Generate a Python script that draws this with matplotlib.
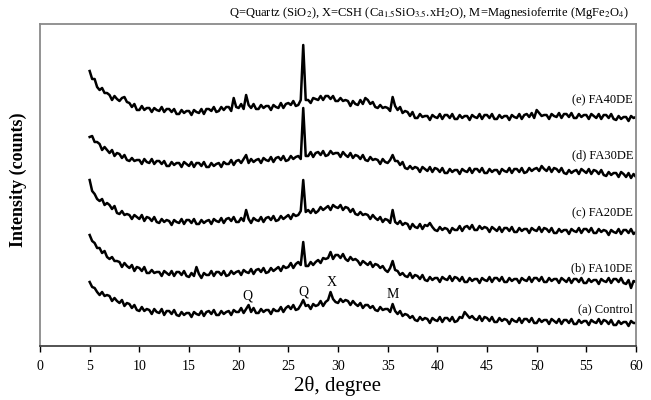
#!/usr/bin/env python3
"""
XRD patterns of control and FA/DE blended pastes, stacked with offsets.
"""

import numpy as np
import matplotlib
matplotlib.use("Agg")
import matplotlib.pyplot as plt

plt.rcParams["font.family"] = ["Liberation Serif", "DejaVu Serif"]
plt.rcParams["mathtext.fontset"] = "stix"

# 2-theta grid, 0.25 degree steps from 5 to 60
two_theta = np.arange(5, 60.001, 0.25)

# intensities (a.u., already offset for stacking)
fa40de = [
    275, 267, 267, 259, 256, 258, 253, 253, 251, 246, 250, 247, 245, 248, 249, 244,
    243, 239, 242, 236, 236, 240, 236, 238, 238, 234, 238, 236, 235, 239, 234, 237,
    237, 234, 237, 232, 232, 236, 233, 235, 235, 231, 236, 234, 233, 237, 232, 237,
    237, 235, 239, 234, 235, 239, 236, 239, 239, 235, 248, 239, 238, 242, 237, 251,
    241, 238, 242, 237, 237, 241, 238, 240, 240, 236, 241, 239, 238, 243, 238, 242,
    243, 241, 245, 240, 241, 246, 301, 246, 246, 243, 248, 247, 246, 250, 246, 250,
    250, 247, 250, 245, 245, 248, 245, 246, 245, 240, 245, 242, 241, 246, 242, 248,
    246, 242, 244, 239, 238, 241, 238, 239, 238, 235, 249, 240, 236, 239, 233, 235,
    234, 230, 234, 228, 228, 232, 229, 230, 230, 226, 231, 229, 228, 232, 227, 231,
    231, 228, 232, 227, 227, 231, 228, 230, 230, 226, 231, 229, 228, 232, 227, 231,
    231, 228, 232, 227, 227, 231, 228, 230, 230, 226, 231, 229, 228, 232, 227, 231,
    232, 229, 233, 228, 236, 233, 230, 231, 231, 227, 232, 230, 229, 233, 228, 232,
    232, 229, 233, 228, 228, 232, 229, 231, 231, 227, 232, 230, 228, 232, 227, 231,
    231, 228, 232, 227, 226, 230, 227, 229, 229, 225, 230, 228, 229,
]
fa30de = [
    209, 210, 204, 204, 202, 196, 199, 196, 193, 196, 190, 193, 192, 188, 191, 186,
    185, 188, 185, 186, 186, 182, 187, 184, 183, 187, 182, 185, 185, 182, 185, 180,
    180, 184, 181, 183, 183, 179, 184, 182, 180, 184, 179, 183, 183, 180, 184, 179,
    179, 183, 180, 182, 183, 179, 184, 182, 182, 186, 181, 185, 186, 183, 187, 191,
    183, 187, 184, 186, 187, 183, 188, 186, 185, 189, 184, 188, 189, 186, 190, 185,
    186, 190, 187, 189, 190, 187, 238, 190, 190, 194, 189, 193, 194, 191, 195, 190,
    191, 195, 192, 193, 193, 189, 194, 191, 189, 193, 188, 191, 190, 187, 191, 186,
    185, 189, 186, 187, 186, 182, 187, 184, 183, 186, 191, 185, 185, 181, 184, 178,
    177, 180, 177, 179, 178, 174, 179, 177, 175, 179, 174, 178, 177, 174, 178, 173,
    173, 177, 174, 176, 176, 172, 177, 175, 174, 178, 173, 177, 177, 174, 178, 173,
    173, 177, 174, 176, 176, 172, 177, 175, 174, 178, 173, 177, 177, 174, 178, 173,
    174, 178, 175, 177, 178, 175, 180, 177, 175, 179, 174, 178, 177, 174, 178, 173,
    172, 176, 173, 175, 176, 172, 177, 175, 173, 177, 172, 176, 175, 172, 176, 171,
    170, 174, 171, 173, 173, 169, 174, 172, 169, 173, 168, 172, 169,
]
fa20de = [
    166, 155, 152, 147, 145, 147, 141, 143, 141, 137, 140, 133, 132, 135, 131, 132,
    131, 127, 131, 129, 127, 131, 125, 129, 128, 125, 129, 124, 123, 127, 124, 126,
    125, 121, 126, 124, 123, 127, 122, 126, 126, 123, 127, 122, 122, 126, 123, 125,
    126, 122, 127, 125, 124, 128, 123, 127, 128, 125, 129, 124, 124, 128, 125, 136,
    127, 123, 128, 126, 125, 129, 124, 128, 129, 126, 130, 125, 126, 130, 127, 129,
    131, 127, 132, 130, 131, 135, 166, 134, 136, 133, 137, 133, 135, 139, 136, 138,
    140, 136, 141, 139, 138, 141, 136, 139, 138, 134, 137, 132, 131, 134, 131, 132,
    131, 127, 131, 128, 126, 129, 124, 127, 126, 123, 136, 124, 122, 125, 121, 123,
    122, 117, 122, 119, 118, 122, 117, 121, 120, 123, 119, 116, 115, 119, 116, 118,
    117, 113, 118, 116, 116, 120, 115, 119, 120, 117, 121, 116, 116, 120, 117, 119,
    118, 114, 119, 117, 115, 119, 114, 118, 118, 115, 119, 114, 114, 118, 115, 117,
    117, 113, 118, 116, 115, 119, 114, 118, 117, 114, 118, 113, 113, 117, 114, 116,
    116, 112, 117, 115, 114, 118, 113, 117, 117, 114, 118, 113, 113, 117, 114, 116,
    115, 111, 116, 114, 113, 117, 112, 116, 116, 113, 117, 112, 114,
]
fa10de = [
    111, 105, 103, 98, 98, 93, 95, 89, 87, 89, 85, 85, 84, 79, 83, 80,
    78, 81, 75, 79, 78, 75, 79, 73, 73, 76, 73, 74, 74, 70, 75, 73,
    71, 75, 70, 74, 74, 71, 75, 70, 69, 73, 70, 79, 72, 68, 73, 71,
    71, 75, 70, 74, 74, 71, 75, 70, 71, 75, 72, 74, 75, 71, 76, 74,
    73, 77, 72, 76, 77, 74, 78, 73, 74, 78, 75, 77, 79, 75, 80, 78,
    79, 83, 78, 82, 84, 81, 104, 80, 80, 84, 81, 84, 86, 83, 88, 87,
    88, 94, 87, 91, 91, 88, 92, 87, 85, 89, 86, 87, 85, 81, 85, 83,
    81, 84, 79, 82, 81, 78, 80, 76, 74, 78, 85, 76, 75, 71, 73, 70,
    69, 73, 68, 71, 70, 67, 71, 66, 65, 69, 66, 68, 68, 64, 69, 67,
    66, 70, 65, 69, 68, 65, 69, 64, 64, 68, 65, 67, 67, 63, 68, 66,
    65, 69, 64, 68, 68, 65, 69, 64, 64, 68, 65, 67, 67, 63, 68, 66,
    65, 69, 64, 68, 68, 65, 69, 64, 64, 68, 65, 67, 67, 63, 68, 66,
    64, 68, 63, 67, 67, 64, 68, 63, 63, 67, 64, 66, 66, 62, 67, 65,
    64, 68, 63, 67, 67, 64, 68, 63, 62, 66, 58, 65, 64,
]
control = [
    64, 59, 58, 54, 51, 54, 50, 51, 50, 45, 48, 45, 43, 46, 40, 43,
    42, 38, 41, 36, 35, 39, 35, 37, 36, 32, 37, 34, 33, 37, 31, 35,
    35, 32, 36, 31, 30, 34, 31, 33, 33, 29, 34, 32, 31, 35, 30, 34,
    35, 32, 36, 31, 31, 35, 32, 34, 35, 31, 36, 34, 34, 38, 33, 37,
    41, 34, 38, 33, 33, 37, 34, 36, 36, 32, 37, 35, 35, 39, 34, 38,
    40, 37, 41, 36, 37, 41, 46, 40, 41, 37, 42, 40, 41, 45, 40, 44,
    46, 54, 47, 44, 43, 47, 44, 46, 45, 41, 45, 42, 40, 43, 38, 41,
    41, 38, 40, 36, 35, 39, 36, 37, 37, 34, 42, 35, 32, 35, 30, 32,
    31, 28, 30, 26, 25, 29, 26, 28, 27, 23, 28, 26, 25, 29, 24, 28,
    28, 25, 29, 24, 25, 29, 28, 34, 31, 28, 30, 27, 26, 30, 25, 29,
    28, 25, 29, 24, 24, 28, 25, 27, 26, 22, 27, 25, 24, 28, 23, 27,
    27, 24, 28, 23, 23, 27, 24, 26, 26, 22, 27, 25, 23, 27, 22, 26,
    26, 23, 27, 22, 22, 26, 23, 25, 25, 21, 26, 24, 23, 27, 22, 26,
    25, 22, 26, 21, 21, 25, 22, 24, 24, 20, 25, 23, 23,
]

series = [control, fa10de, fa20de, fa30de, fa40de]
series_labels = ["(a) Control", "(b) FA10DE", "(c) FA20DE", "(d) FA30DE", "(e) FA40DE"]
label_y = [37, 78, 133, 191, 246]

# phase markers on the control pattern
phase_names = ["Q", "Q", "X", "M"]
phase_x = [20.85, 26.5, 29.4, 35.55]
phase_y = [50, 54, 63, 51]

legend_text = (r"Q=Quartz (SiO$_2$), X=CSH (Ca$_{1.5}$SiO$_{3.5}$.xH$_2$O), "
               r"M=Magnesioferrite (MgFe$_2$O$_4$)")

fig = plt.figure(figsize=(6.51, 4.0), dpi=100)
ax = fig.add_axes([40 / 651, 54 / 400, 596 / 651, 322 / 400])

for values in series:
    ax.plot(two_theta, values, color="black", lw=1.8)

for text, y in zip(series_labels, label_y):
    ax.text(59.7, y, text, ha="right", va="center", fontsize=9)

for name, x, y in zip(phase_names, phase_x, phase_y):
    ax.text(x, y, name, ha="center", va="center", fontsize=10)

ax.set_xlim(0, 60)
ax.set_ylim(0, 322)
ax.set_xticks(range(0, 61, 5))
ax.set_yticks([])
ax.tick_params(axis="x", direction="out", length=4, width=1, labelsize=10, pad=6)

for side in ["top", "left", "right"]:
    ax.spines[side].set_color("#8a8a8a")
    ax.spines[side].set_linewidth(1.3)
ax.spines["bottom"].set_color("#444444")
ax.spines["bottom"].set_linewidth(1.3)

ax.set_xlabel("2θ, degree", fontsize=15, labelpad=2)
fig.text(18 / 651, 1 - 180 / 400, "Intensity (counts)", rotation=90,
         ha="center", va="center", fontsize=13, fontweight="bold")
fig.text(629 / 651, 1 - 13 / 400, legend_text, ha="right", va="center", fontsize=9)

fig.savefig("out.png", dpi=100)
